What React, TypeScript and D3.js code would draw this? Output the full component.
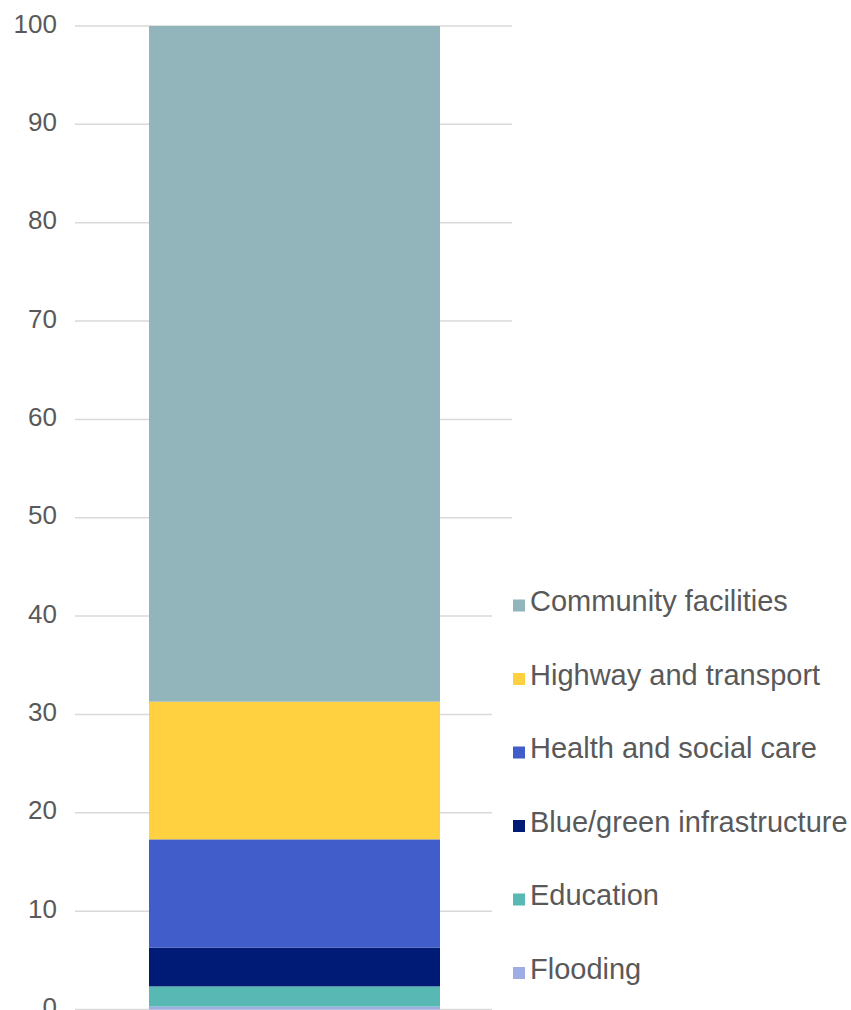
import React from "react";
import * as d3 from "d3";

const categories = ["Flooding", "Education", "Blue/green infrastructure", "Health and social care", "Highway and transport", "Community facilities"];
const values = [0.3, 2.05, 3.95, 11.0, 14.0, 68.7];
const colors = ["#9EADE4", "#58B8B3", "#001B75", "#415DC9", "#FFD040", "#92B5BC"];
const yTicks = [0, 10, 20, 30, 40, 50, 60, 70, 80, 90, 100];
const legendOrder = ["Community facilities", "Highway and transport", "Health and social care", "Blue/green infrastructure", "Education", "Flooding"];

const W = 851;
const H = 1010;
const FONT = "'Liberation Sans', Arial, sans-serif";
const TEXT = "#595959";

export default function App() {
  const y = d3.scaleLinear().domain([0, 100]).range([1009.5, 26]);
  const x = d3.scaleBand().domain(["total"]).range([75, 513]).paddingInner(0).paddingOuter(0.1667);
  // bar from ~149 to ~440
  const barX = 149;
  const barW = 291;
  const stackData = [Object.fromEntries(categories.map((c, i) => [c, values[i]]))];
  const stacked = d3.stack<any>().keys(categories)(stackData as any);
  const legendY = d3.scaleBand().domain(legendOrder).range([575, 1016]);

  return (
    <svg width={W} height={H} style={{ position: "absolute", left: 0, top: 0, display: "block", background: "#fff" }}>
      {yTicks.map((t) => (
        <g key={t}>
          <line x1={75} x2={512} y1={y(t)} y2={y(t)} stroke="#D9D9D9" strokeWidth={1.5} />
          <text x={57} y={y(t) + 6.5} textAnchor="end" fontFamily={FONT} fontSize={26} fill={TEXT}>
            {t}
          </text>
        </g>
      ))}
      {stacked.map((s, i) => (
        <rect
          key={categories[i]}
          x={barX}
          width={barW}
          y={y(s[0][1])}
          height={y(s[0][0]) - y(s[0][1])}
          fill={colors[i]}
        />
      ))}
      <rect x={492} y={565} width={W - 492} height={H - 565} fill="#fff" />
      {legendOrder.map((c) => {
        const i = categories.indexOf(c);
        const cy = (legendY(c) as number) + 36;
        return (
          <g key={c}>
            <rect x={513} y={cy - 11.5} width={12} height={12} fill={colors[i]} />
            <text x={530} y={cy} fontFamily={FONT} fontSize={29} fill={TEXT}>
              {c}
            </text>
          </g>
        );
      })}
    </svg>
  );
}
